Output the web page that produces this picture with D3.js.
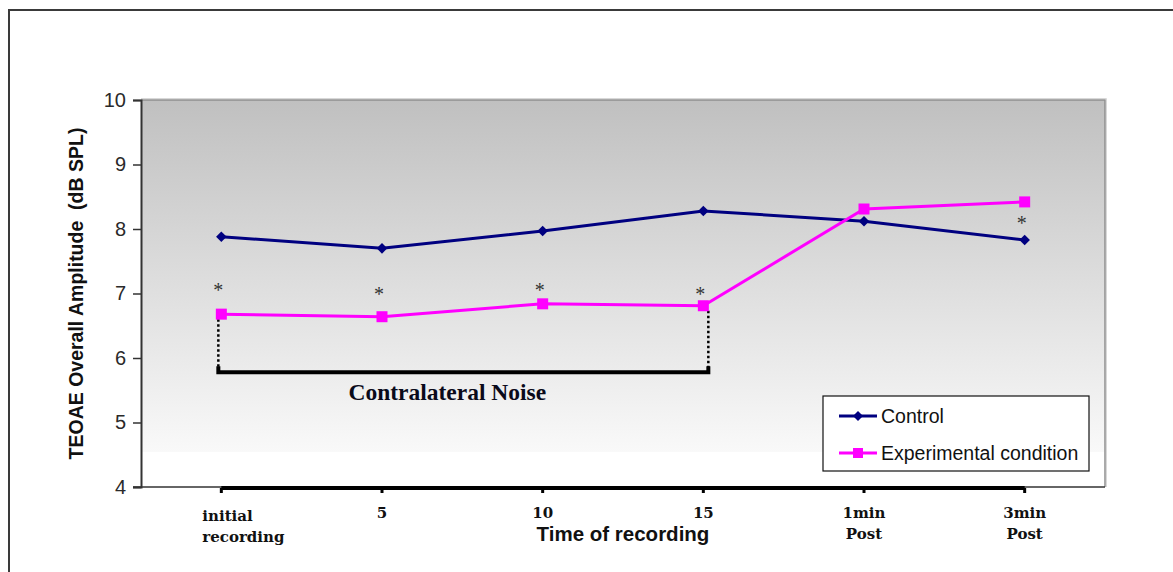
<!DOCTYPE html>
<html>
<head>
<meta charset="utf-8">
<script src="https://cdn.jsdelivr.net/npm/d3@7/dist/d3.min.js"></script>
<style>
  html, body { margin: 0; padding: 0; background: #ffffff; }
  svg { display: block; }
</style>
</head>
<body>
<svg id="chart" width="1173" height="572"></svg>
<script>
// ---- data ----
const categories = ["initial recording", "5", "10", "15", "1min Post", "3min Post"];
const tickLabelLines = [["initial", "recording"], ["5"], ["10"], ["15"], ["1min", "Post"], ["3min", "Post"]];
const controlValues = [7.88, 7.70, 7.97, 8.28, 8.12, 7.83];
const experimentalValues = [6.68, 6.64, 6.84, 6.81, 8.31, 8.42];
const yTicks = [4, 5, 6, 7, 8, 9, 10];
const asteriskCategories = ["initial recording", "5", "10", "15", "3min Post"];
const asteriskValues = [7.10, 7.04, 7.10, 7.04, 8.14];
const noiseStart = "initial recording";
const noiseEnd = "15";
const noiseBracketValue = 5.78;
const seriesNames = ["Control", "Experimental condition"];

// ---- layout ----
const svg = d3.select("#chart");
const plot = { left: 141, right: 1105, top: 100, bottom: 487 };

const x = d3.scaleBand().domain(categories).range([plot.left, plot.right]).padding(0);
const cx = c => x(c) + x.bandwidth() / 2;
const y = d3.scaleLinear().domain([4, 10]).range([plot.bottom, plot.top]);

// outer frame
svg.append("path")
  .attr("d", `M9,572 L9,10 L1173,10`)
  .attr("fill", "none").attr("stroke", "#3a3a3a").attr("stroke-width", 2);

// plot gradient background
const defs = svg.append("defs");
const grad = defs.append("linearGradient").attr("id", "bg")
  .attr("x1", 0).attr("y1", 0).attr("x2", 0).attr("y2", 1);
grad.append("stop").attr("offset", "0%").attr("stop-color", "#c0c0c0");
grad.append("stop").attr("offset", "91%").attr("stop-color", "#f9f9f9");
grad.append("stop").attr("offset", "91%").attr("stop-color", "#ffffff");
grad.append("stop").attr("offset", "100%").attr("stop-color", "#ffffff");

svg.append("rect")
  .attr("x", plot.left).attr("y", plot.top)
  .attr("width", plot.right - plot.left).attr("height", plot.bottom - plot.top)
  .attr("fill", "url(#bg)");

// plot frame top/right (gray)
svg.append("path")
  .attr("d", `M${plot.left},${plot.top} L${plot.right},${plot.top} L${plot.right},${plot.bottom}`)
  .attr("fill", "none").attr("stroke", "#8f8f8f").attr("stroke-width", 1.5);
svg.append("path")
  .attr("d", `M${plot.left},${plot.top - 1.5} L${plot.right + 1.5},${plot.top - 1.5} L${plot.right + 1.5},${plot.bottom}`)
  .attr("fill", "none").attr("stroke", "#d8d8d8").attr("stroke-width", 1);

// y axis
const yAxis = d3.axisLeft(y).tickValues(yTicks).tickSize(8).tickPadding(7).tickFormat(d3.format("d"));
const gy = svg.append("g").attr("transform", `translate(${plot.left},0)`).call(yAxis);
gy.select(".domain").attr("stroke", "#333").attr("stroke-width", 2);
gy.selectAll(".tick line").attr("stroke", "#333").attr("stroke-width", 1.5);
gy.selectAll(".tick text")
  .attr("font-family", "Liberation Sans, Arial, sans-serif")
  .attr("font-size", 20).attr("fill", "#2a2a2a");

// bottom axis (thin) across plot
svg.append("line")
  .attr("x1", plot.left - 8).attr("x2", plot.right)
  .attr("y1", plot.bottom).attr("y2", plot.bottom)
  .attr("stroke", "#333").attr("stroke-width", 1.5);

// thick black x axis between first and last category with ticks
const xAxis = d3.axisBottom(x).tickSize(5).tickSizeOuter(0).tickFormat("");
const gx = svg.append("g").attr("transform", `translate(0,${plot.bottom + 1})`).call(xAxis);
gx.select(".domain")
  .attr("d", `M${cx(categories[0])},0 H${cx(categories[categories.length - 1])}`)
  .attr("stroke", "#000").attr("stroke-width", 4);
gx.selectAll(".tick line").attr("stroke", "#000").attr("stroke-width", 3);

// x tick labels
const tickFont = "DejaVu Serif, serif";
categories.forEach((c, i) => {
  const lines = tickLabelLines[i];
  const first = i === 0;
  const t = svg.append("text")
    .attr("font-family", tickFont).attr("font-weight", "bold")
    .attr("font-size", 15).attr("fill", "#111")
    .attr("text-anchor", first ? "start" : "middle");
  lines.forEach((ln, j) => {
    t.append("tspan")
      .attr("x", first ? cx(c) - 19 : cx(c))
      .attr("y", plot.bottom + 31 + j * 21 + (first ? 3 : 0))
      .text(ln);
  });
});

// axis titles
svg.append("text")
  .attr("x", 623).attr("y", 541)
  .attr("text-anchor", "middle")
  .attr("font-family", "Liberation Sans, Arial, sans-serif")
  .attr("font-weight", "bold").attr("font-size", 20.5)
  .attr("fill", "#111")
  .text("Time of recording");

svg.append("text")
  .attr("transform", `translate(83,${(plot.top + plot.bottom) / 2}) rotate(-90)`)
  .attr("text-anchor", "middle")
  .attr("font-family", "Liberation Sans, Arial, sans-serif")
  .attr("font-weight", "bold").attr("font-size", 19.5)
  .attr("fill", "#111")
  .attr("xml:space", "preserve")
  .text("TEOAE Overall Amplitude  (dB SPL)");

// bracket for contralateral noise
const bx1 = cx(noiseStart) - 3, bx2 = cx(noiseEnd) + 5;
const by = y(noiseBracketValue);
const expStart = experimentalValues[categories.indexOf(noiseStart)];
const expEnd = experimentalValues[categories.indexOf(noiseEnd)];
svg.append("line")
  .attr("x1", bx1).attr("x2", bx1).attr("y1", y(expStart) + 5).attr("y2", by - 3)
  .attr("stroke", "#000").attr("stroke-width", 2.5).attr("stroke-dasharray", "2.5,2.5");
svg.append("line")
  .attr("x1", bx2).attr("x2", bx2).attr("y1", y(expEnd) + 5).attr("y2", by - 3)
  .attr("stroke", "#000").attr("stroke-width", 2.5).attr("stroke-dasharray", "2.5,2.5");
svg.append("path")
  .attr("d", `M${bx1},${by - 6} L${bx1},${by} L${bx2},${by} L${bx2},${by - 6}`)
  .attr("fill", "none").attr("stroke", "#000").attr("stroke-width", 4);

svg.append("text")
  .attr("x", (bx1 + bx2) / 2 - 16).attr("y", by + 28)
  .attr("text-anchor", "middle")
  .attr("font-family", "Liberation Serif, 'Times New Roman', serif")
  .attr("font-weight", "bold").attr("font-size", 23.5)
  .attr("fill", "#0a0a1a")
  .text("Contralateral Noise");

// lines
const line = d3.line().x((d, i) => cx(categories[i])).y(d => y(d));
svg.append("path").datum(controlValues)
  .attr("d", line).attr("fill", "none").attr("stroke", "#000080").attr("stroke-width", 3);
svg.append("path").datum(experimentalValues)
  .attr("d", line).attr("fill", "none").attr("stroke", "#ff00ff").attr("stroke-width", 3);

// markers
svg.append("g").selectAll("path").data(controlValues).join("path")
  .attr("d", d3.symbol().type(d3.symbolSquare).size(56))
  .attr("transform", (d, i) => `translate(${cx(categories[i])},${y(d)}) rotate(45)`)
  .attr("fill", "#000080");
svg.append("g").selectAll("rect").data(experimentalValues).join("rect")
  .attr("x", (d, i) => cx(categories[i]) - 5.5).attr("y", d => y(d) - 5.5)
  .attr("width", 11).attr("height", 11)
  .attr("fill", "#ff00ff");

// asterisks
svg.append("g").selectAll("text").data(asteriskValues).join("text")
  .attr("x", (d, i) => cx(asteriskCategories[i]) - 3)
  .attr("y", d => y(d) + 10)
  .attr("text-anchor", "middle")
  .attr("font-family", "Liberation Serif, 'Times New Roman', serif")
  .attr("font-size", 20).attr("fill", "#333")
  .text("*");

// legend
const lg = svg.append("g").attr("transform", "translate(823,396)");
lg.append("rect").attr("width", 266).attr("height", 75)
  .attr("fill", "#fff").attr("stroke", "#111").attr("stroke-width", 1.2);
const legendColors = ["#000080", "#ff00ff"];
seriesNames.forEach((name, i) => {
  const ly = 20 + i * 37;
  lg.append("line").attr("x1", 16).attr("x2", 54).attr("y1", ly).attr("y2", ly)
    .attr("stroke", legendColors[i]).attr("stroke-width", 3);
  if (i === 0) {
    lg.append("path").attr("d", d3.symbol().type(d3.symbolSquare).size(50))
      .attr("transform", `translate(35,${ly}) rotate(45)`).attr("fill", legendColors[i]);
  } else {
    lg.append("rect").attr("x", 30).attr("y", ly - 5).attr("width", 10).attr("height", 10)
      .attr("fill", legendColors[i]);
  }
  lg.append("text").attr("x", 58).attr("y", ly + 7)
    .attr("font-family", "Liberation Sans, Arial, sans-serif")
    .attr("font-size", 19.5).attr("fill", "#111")
    .text(name);
});
</script>
</body>
</html>
